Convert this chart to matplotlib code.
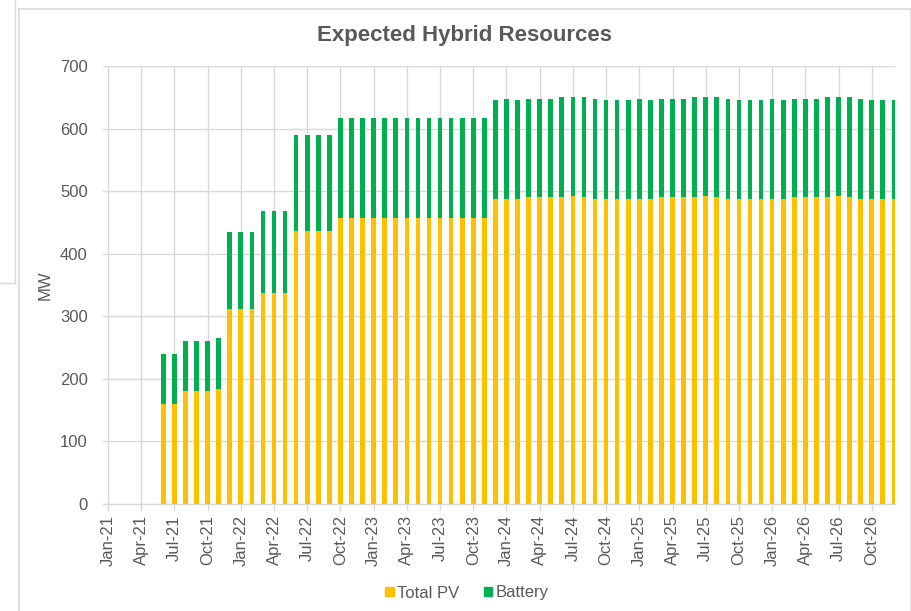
import matplotlib
matplotlib.use('Agg')
import matplotlib.pyplot as plt
from matplotlib import font_manager
from matplotlib.lines import Line2D
from matplotlib.patches import Rectangle
import pandas as pd

# monthly categories, Jan-21 .. Dec-26
months = pd.date_range('2021-01-01', periods=72, freq='MS')
month_labels = [d.strftime('%b-%y') for d in months]

total_pv = [
    0, 0, 0, 0, 0, 160, 160, 181, 181, 181, 183, 311,            # 2021
    311, 311, 337, 337, 337, 436, 436, 436, 436, 457, 457, 457,  # 2022
    457, 457, 457, 457, 457, 457, 457, 457, 457, 457, 457, 487.5,  # 2023
    487.5, 487.5, 490, 490, 490, 490, 492, 490, 487.5, 487.5, 487.5, 487.5,  # 2024
    487.5, 487.5, 490, 490, 490, 490, 492, 490, 487.5, 487.5, 487.5, 487.5,  # 2025
    487.5, 487.5, 490, 490, 490, 490, 492, 490, 487.5, 487.5, 487.5, 487.5,  # 2026
]
battery = [
    0, 0, 0, 0, 0, 80, 80, 80, 80, 80, 82, 123,
    123, 123, 132, 132, 132, 154, 154, 154, 154, 160, 160, 160,
    160, 160, 160, 160, 160, 160, 160, 160, 160, 160, 160, 158.5,
    160.5, 158.5, 158, 158, 158, 160, 158, 160, 160.5, 158.5, 158.5, 158.5,
    160.5, 158.5, 158, 158, 158, 160, 158, 160, 160.5, 158.5, 158.5, 158.5,
    160.5, 158.5, 158, 158, 158, 160, 158, 160, 160.5, 158.5, 158.5, 158.5,
]

pv_color = '#FFC000'
bat_color = '#00B050'
text_color = '#595959'
grid_color = '#D9D9D9'

names = {f.name for f in font_manager.fontManager.ttflist}
base_font = 'Liberation Sans' if 'Liberation Sans' in names else 'DejaVu Sans'
plt.rcParams['font.family'] = [base_font, 'DejaVu Sans']

fig = plt.figure(figsize=(9.12, 6.11), dpi=100)
ax = fig.add_axes([103 / 912, 1 - 504 / 611, (895 - 103) / 912, (504 - 66) / 611])

x = list(range(len(months)))
ax.bar(x, total_pv, width=0.42, color=pv_color, label='Total PV', zorder=3)
ax.bar(x, battery, width=0.42, bottom=total_pv, color=bat_color,
       label='Battery', zorder=3)

ax.set_xlim(-0.45, 71.1)
ax.set_ylim(0, 700)
ax.set_yticks(range(0, 701, 100))
ticks = x[::3]
ax.set_xticks(ticks)
ax.set_xticklabels([month_labels[i] for i in ticks], rotation=90,
                   fontsize=12, color=text_color)
ax.tick_params(axis='y', length=0, pad=11, labelsize=12, labelcolor=text_color)
ax.tick_params(axis='x', length=5, width=1, color=grid_color, pad=3)

ax.grid(True, color=grid_color, linewidth=1, zorder=0)
ax.set_axisbelow(True)
for side in ['top', 'right', 'left']:
    ax.spines[side].set_visible(False)
ax.spines['bottom'].set_color(grid_color)
ax.spines['bottom'].set_linewidth(1)

ax.set_ylabel('MW', fontsize=12, color=text_color)
ax.yaxis.set_label_coords(-50 / 792, 0.5)

fig.text(465 / 912, 1 - 35 / 611, 'Expected Hybrid Resources', ha='center',
         va='center', fontsize=16, fontweight='bold', color=text_color)

handles = [Rectangle((0, 0), 1, 1, color=pv_color),
           Rectangle((0, 0), 1, 1, color=bat_color)]
fig.legend(handles, ['Total PV', 'Battery'], loc='center',
           bbox_to_anchor=(467 / 912, 1 - 593 / 611), ncol=2, frameon=False,
           fontsize=12, handlelength=0.5, handleheight=0.5, handletextpad=0.2,
           columnspacing=1.5, labelcolor=text_color)

# chart area border and neighbouring panel edge
fig.add_artist(Rectangle((18.5 / 912, -0.01), (911 - 18.5) / 912, 1 - 9 / 611 + 0.01,
                         transform=fig.transFigure, fill=False,
                         edgecolor=grid_color, linewidth=1.2))
fig.add_artist(Line2D([15 / 912, 15 / 912], [1, 1 - 283 / 611],
                      transform=fig.transFigure, color=grid_color, linewidth=1))
fig.add_artist(Line2D([0, 15 / 912], [1 - 283 / 611, 1 - 283 / 611],
                      transform=fig.transFigure, color=grid_color, linewidth=1))

fig.savefig('out.png', dpi=100)
